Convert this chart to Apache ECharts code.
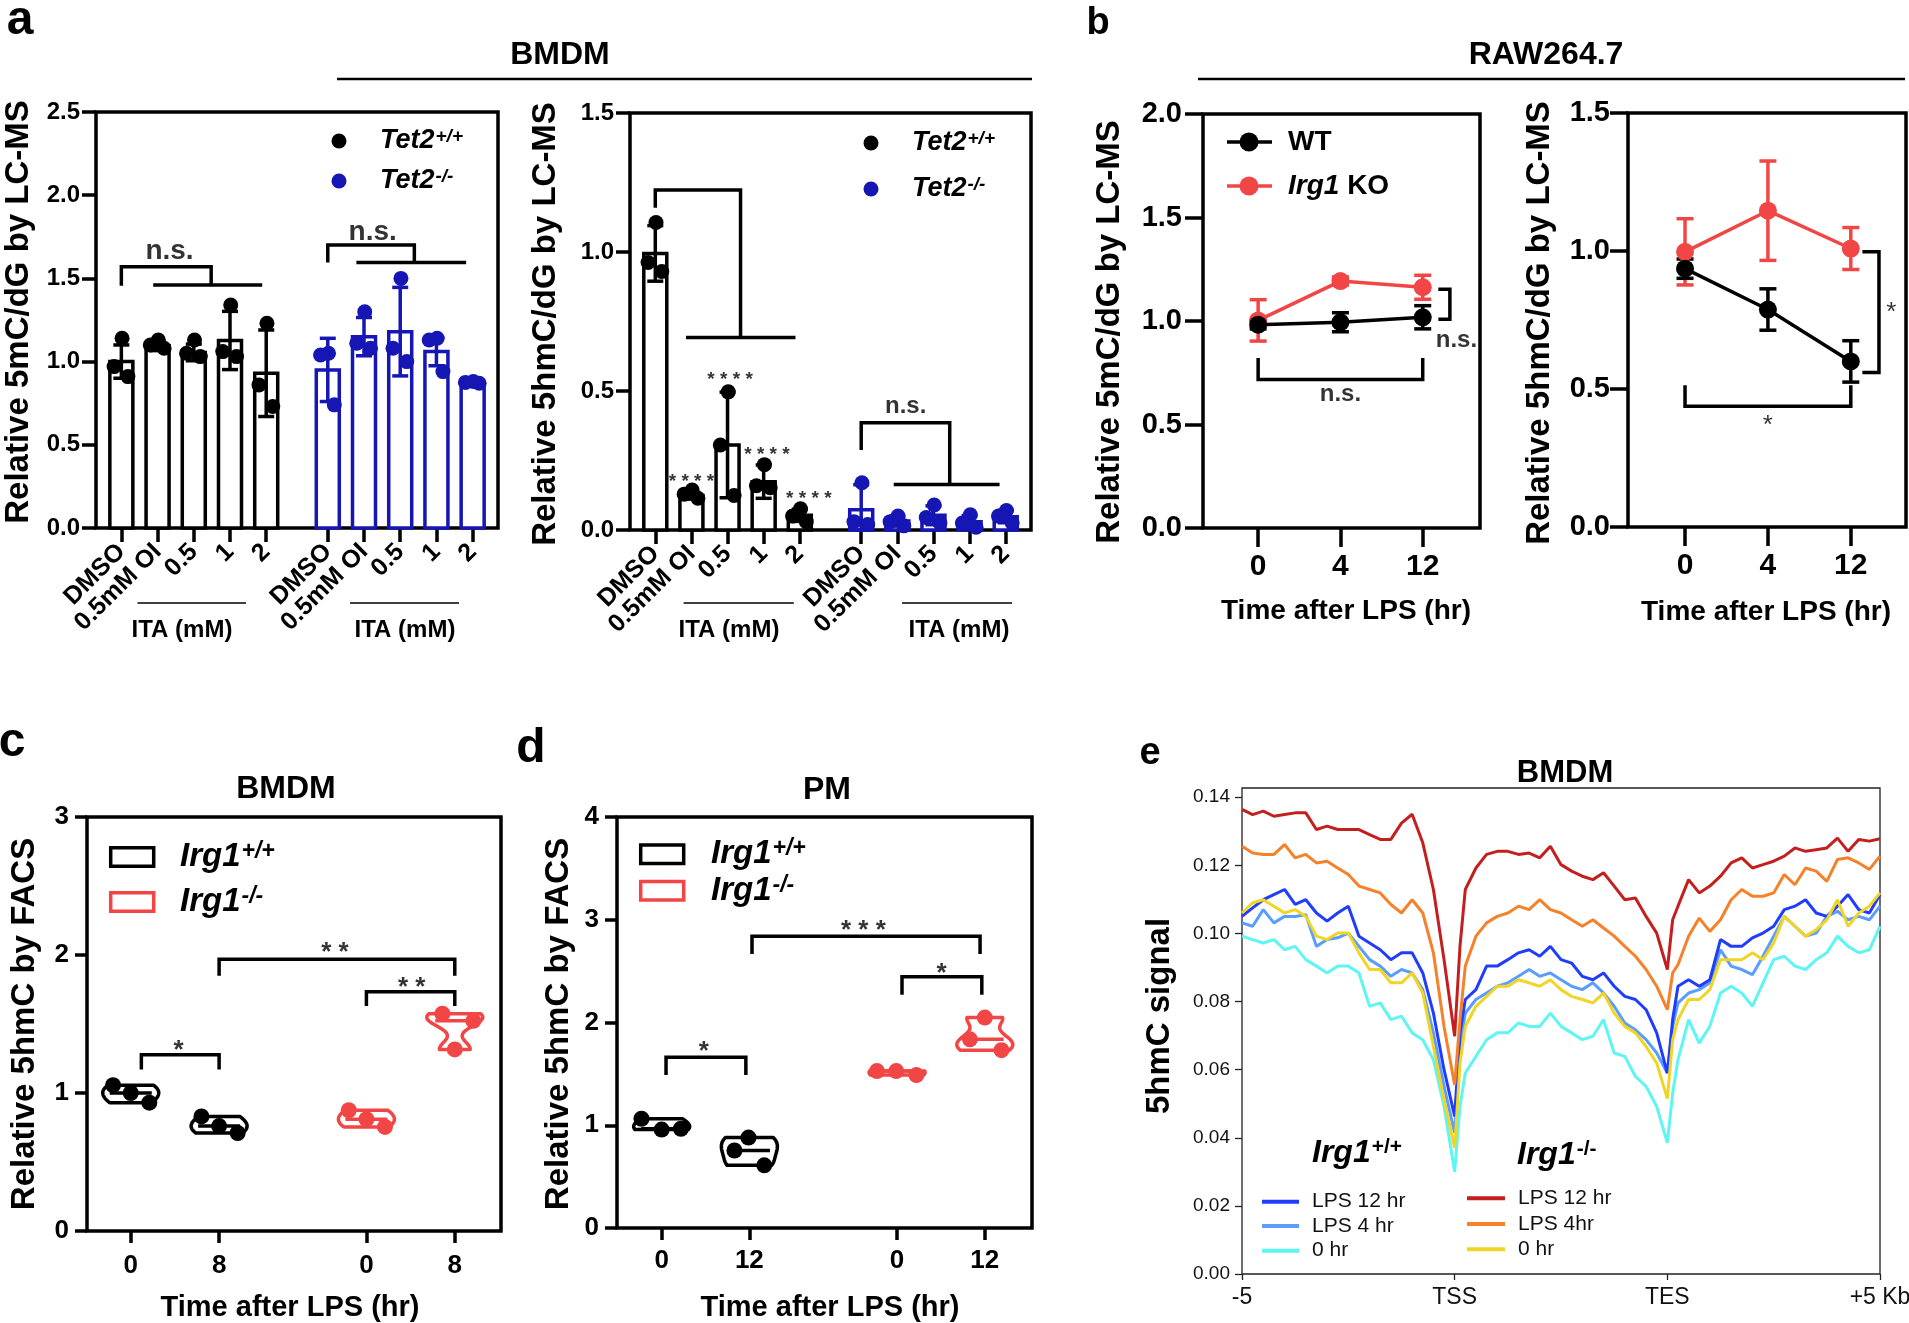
<!DOCTYPE html>
<html><head><meta charset="utf-8">
<script src="https://cdn.jsdelivr.net/npm/echarts@6/dist/echarts.min.js"></script>
<style>html,body{margin:0;padding:0;background:#fff}#c{width:1909px;height:1323px}</style>
</head><body><div id="c"></div>
<script>
// ---------------- DATA ----------------
// Panel a (BMDM, LC-MS)
const aCats = ['DMSO','0.5mM OI','0.5','1','2','DMSO','0.5mM OI','0.5','1','2'];
const aPos = [0,1,2,3,4,5.7,6.7,7.7,8.7,9.7];
const aJit = [[0.02,-0.2,0.18],[0.02,-0.2,0.18],[0.02,-0.2,0.18],[0.02,-0.2,0.18],[0.02,-0.2,0.18]];
const a5mC_wt_mean = [1.00,1.096,1.055,1.127,0.93];
const a5mC_wt_sd   = [0.10,0.03,0.05,0.175,0.26];
const a5mC_wt_pts  = [[1.14,0.97,0.91],[1.13,1.10,1.08],[1.13,1.05,1.03],[1.34,1.06,1.03],[1.23,0.86,0.73]];
const a5mC_ko_mean = [0.95,1.15,1.18,1.06,0.87];
const a5mC_ko_sd   = [0.19,0.115,0.266,0.085,0.01];
const a5mC_ko_pts  = [[1.05,1.04,0.74],[1.30,1.11,1.08],[1.50,1.08,1.00],[1.14,1.13,0.94],[0.88,0.875,0.87]];
const a5hmC_wt_mean = [0.995,0.124,0.306,0.174,0.053];
const a5hmC_wt_sd   = [0.10,0.013,0.19,0.06,0.022];
const a5hmC_wt_pts  = [[1.106,0.962,0.93],[0.144,0.129,0.114],[0.497,0.306,0.124],[0.235,0.159,0.152],[0.076,0.05,0.03]];
const a5hmC_ko_mean = [0.073,0.032,0.053,0.03,0.048];
const a5hmC_ko_sd   = [0.09,0.018,0.034,0.022,0.022];
const a5hmC_ko_pts  = [[0.17,0.03,0.02],[0.05,0.03,0.015],[0.09,0.045,0.025],[0.055,0.025,0.01],[0.07,0.05,0.025]];
const a1Ticks = [0,0.5,1.0,1.5,2.0,2.5];
const a2Ticks = [0,0.5,1.0,1.5];

// Panel b (RAW264.7)
const bTimes = ['0','4','12'];
const bPos = [0,1,2];
const b5mC_wt = [0.982,0.994,1.018], b5mC_wt_sd = [0.02,0.046,0.056];
const b5mC_ko = [1.003,1.193,1.163], b5mC_ko_sd = [0.10,0.02,0.058];
const b5hmC_wt = [0.936,0.788,0.60], b5hmC_wt_sd = [0.035,0.075,0.075];
const b5hmC_ko = [0.997,1.146,1.009], b5hmC_ko_sd = [0.12,0.18,0.076];

// Panel c (BMDM FACS)
const cTimes = ['0','8','0','8'];
const cPos = [0,1,2.667,3.667];
const c_wt = [[1.057,1.0,0.93],[0.83,0.76,0.71]];
const c_ko = [[0.875,0.81,0.754],[1.575,1.523,1.316]];
const c_wtJit = [[-0.2,0,0.21],[-0.2,0,0.21]];
const c_koJit = [[-0.2,0,0.21],[-0.14,0.21,0]];

// Panel d (PM FACS)
const dTimes = ['0','12','0','12'];
const dPos = [0,1,2.684,3.684];
const d_wt = [[1.063,0.958,0.966],[0.88,0.754,0.61]];
const d_ko = [[1.527,1.527,1.488],[2.048,1.836,1.731]];
const d_wtJit = [[-0.23,0,0.22],[-0.01,-0.17,0.17]];
const d_koJit = [[-0.23,-0.01,0.22],[0,-0.17,0.19]];

// Panel e (5hmC profile)
const eXLabels = ['-5','TSS','TES','+5 Kb'];
const eX = [0,0.05,0.1,0.15,0.2,0.25,0.3,0.35,0.4,0.45,0.5,0.55,0.6,0.65,0.7,0.75,0.8,0.85,0.9,0.95,1.0,1.025,1.05,1.1,1.15,1.2,1.25,1.3,1.35,1.4,1.45,1.5,1.55,1.6,1.65,1.7,1.75,1.8,1.85,1.9,1.95,2.0,2.025,2.05,2.1,2.15,2.2,2.25,2.3,2.35,2.4,2.45,2.5,2.55,2.6,2.65,2.7,2.75,2.8,2.85,2.9,2.95,3.0];
const eTicks = [0,0.02,0.04,0.06,0.08,0.10,0.12,0.14];
const e_wt_lps12 = [.1050,.1075,.1099,.1114,.1129,.1085,.1099,.1060,.1036,.1060,.1080,.0992,.0972,.0952,.0923,.0943,.0943,.0884,.0766,.0600,.0463,.0708,.0806,.0835,.0904,.0904,.0923,.0943,.0952,.0933,.0962,.0923,.0913,.0874,.0864,.0884,.0845,.0815,.0806,.0776,.0708,.0590,.0747,.0845,.0864,.0845,.0864,.0982,.0962,.0962,.0987,.1001,.1021,.1070,.1080,.1099,.1060,.1050,.1080,.1114,.1070,.1060,.1114];
const e_wt_lps4 = [.1031,.1021,.1070,.1031,.1050,.1050,.1055,.0962,.0982,.0987,.1001,.0962,.0923,.0904,.0874,.0894,.0884,.0835,.0708,.0551,.0414,.0668,.0766,.0806,.0825,.0845,.0855,.0874,.0894,.0874,.0884,.0864,.0845,.0835,.0855,.0825,.0786,.0737,.0717,.0688,.0649,.0590,.0727,.0796,.0825,.0835,.0855,.0952,.0904,.0894,.0879,.0933,.0992,.1050,.1021,.0992,.1001,.1050,.1065,.1040,.1050,.1040,.1080];
const e_wt_0 = [.0992,.0982,.0972,.0982,.0952,.0962,.0923,.0904,.0884,.0904,.0904,.0884,.0786,.0796,.0747,.0757,.0708,.0688,.0629,.0492,.0300,.0492,.0590,.0639,.0688,.0708,.0708,.0737,.0727,.0727,.0766,.0727,.0708,.0688,.0698,.0747,.0649,.0639,.0580,.0551,.0492,.0385,.0530,.0629,.0747,.0678,.0727,.0825,.0845,.0825,.0786,.0855,.0923,.0933,.0904,.0894,.0923,.0943,.0992,.0962,.0943,.0952,.1021];
const e_ko_lps12 = [.1364,.1349,.1359,.1344,.1349,.1354,.1354,.1305,.1315,.1305,.1305,.1305,.1290,.1276,.1276,.1324,.1350,.1266,.1129,.0923,.0698,.0962,.1129,.1192,.1232,.1241,.1241,.1232,.1236,.1222,.1256,.1202,.1183,.1168,.1158,.1178,.1139,.1099,.1104,.1050,.1001,.0894,.1040,.1080,.1158,.1119,.1139,.1168,.1207,.1222,.1192,.1202,.1212,.1227,.1251,.1241,.1246,.1251,.1280,.1241,.1276,.1271,.1278];
const e_ko_lps4 = [.1256,.1236,.1232,.1232,.1261,.1222,.1232,.1207,.1212,.1192,.1173,.1139,.1129,.1119,.1085,.1060,.1099,.1060,.0943,.0727,.0555,.0747,.0904,.0992,.1031,.1050,.1060,.1080,.1070,.1099,.1070,.1060,.1040,.1021,.1040,.1016,.0992,.0962,.0933,.0894,.0845,.0776,.0884,.0908,.0992,.1045,.1006,.1040,.1099,.1129,.1109,.1109,.1119,.1173,.1143,.1192,.1183,.1153,.1217,.1222,.1207,.1188,.1227];
const e_ko_0 = [.1060,.1090,.1099,.1080,.1060,.1070,.1050,.0992,.0982,.1001,.1001,.0943,.0894,.0894,.0855,.0855,.0884,.0825,.0668,.0512,.0370,.0619,.0727,.0786,.0815,.0845,.0845,.0864,.0855,.0845,.0864,.0835,.0815,.0806,.0796,.0825,.0766,.0727,.0708,.0668,.0619,.0515,.0688,.0747,.0806,.0806,.0835,.0923,.0923,.0923,.0943,.0923,.0972,.1050,.1021,.0992,.1011,.1040,.1099,.1021,.1060,.1080,.1119];

// Significance annotations (data coordinates)
const aL_br = [[[0,1.456],[0,1.57],[2.48,1.57],[2.48,1.461]], [[0.88,1.461],[3.89,1.461]], [[5.7,1.595],[5.7,1.70],[8.09,1.70],[8.09,1.595]], [[6.49,1.595],[9.52,1.595]]];
const aR_br = [[[0,1.159],[0,1.223],[2.36,1.223],[2.36,0.692]], [[0.85,0.692],[3.88,0.692]], [[5.7,0.288],[5.7,0.386],[8.15,0.386],[8.15,0.164]], [[6.6,0.164],[9.53,0.164]]];
const aR_stars = [[1.0,0.19],[2.07,0.56],[3.09,0.29],[4.25,0.13]];
const b1_br = [[[2.19,1.153],[2.33,1.153],[2.33,1.008],[2.19,1.008]], [[0,0.821],[0,0.717],[2,0.717],[2,0.821]]];
const b2_br = [[[2.14,0.997],[2.34,0.997],[2.34,0.56],[2.14,0.56]], [[0,0.514],[0,0.4375],[2,0.4375],[2,0.514]]];
const c_br = [[[0.12,1.17],[0.12,1.278],[1,1.278],[1,1.17]], [[1,1.85],[1,1.97],[3.667,1.97],[3.667,1.85]], [[2.667,1.63],[2.667,1.733],[3.667,1.733],[3.667,1.63]]];
const d_br = [[[0.05,1.488],[0.05,1.662],[0.96,1.662],[0.96,1.488]], [[1.03,2.667],[1.03,2.84],[3.63,2.84],[3.63,2.667]], [[2.74,2.27],[2.74,2.446],[3.65,2.446],[3.65,2.27]]];

// ---------------- STYLE ----------------
const F = '"Liberation Sans", Arial, Helvetica, sans-serif';
const BLACK = '#000000', BLUE = '#1616b4', RED = '#f24646';
const E_COL = {wt12:'#1f3cff', wt4:'#5b9cff', wt0:'#5ff5f5', ko12:'#c41f1f', ko4:'#f5822a', ko0:'#f0d524'};
const LW = 3.5;

function nearestIdx(arr, v){ let b=0; arr.forEach((p,i)=>{ if(Math.abs(p-v)<Math.abs(arr[b]-v)) b=i; }); return b; }

function xAxisCustom(gi, pos, labels, min, max, o){
  return {gridIndex:gi, type:'value', min, max,
    axisLine:{show:false, onZero:false}, splitLine:{show:false},
    axisTick:{show:true, customValues:pos, length:o.tick, lineStyle:{width:o.lw||LW, color:o.tc||'#000'}},
    axisLabel:{customValues:pos, formatter:(v)=>labels[nearestIdx(pos,v)], rotate:o.rotate||0,
      showMinLabel:true, showMaxLabel:true, hideOverlap:false,
      fontSize:o.fs, fontWeight:o.fw||'bold', fontFamily:F, color:o.col||'#000', margin:o.margin}};
}
function yAxisStd(gi, min, max, ticks, o){
  return {gridIndex:gi, type:'value', min, max,
    axisLine:{show:false, onZero:false}, splitLine:{show:false},
    axisTick:{show:true, customValues:ticks, length:o.tick, lineStyle:{width:o.lw||LW, color:o.tc||'#000'}},
    axisLabel:{customValues:ticks, formatter:(v)=>v.toFixed(o.dec), showMinLabel:true, showMaxLabel:true, hideOverlap:false,
      fontSize:o.fs, fontWeight:o.fw||'bold', fontFamily:F, color:o.col||'#000', margin:o.margin}};
}

function barSeries(gi, pos, means, sds, color){
  return {type:'custom', xAxisIndex:gi, yAxisIndex:gi, clip:false, z:2,
    data: means.map((m,i)=>[pos[i], m, sds[i]]),
    renderItem:(params, api)=>{
      const x=api.value(0), m=api.value(1), s=api.value(2);
      const p0=api.coord([x,0]), p1=api.coord([x,m]);
      const hi=api.coord([x,m+s]), lo=api.coord([x,Math.max(0,m-s)]);
      const w=23, cw=16;
      return {type:'group', children:[
        {type:'rect', shape:{x:p0[0]-w/2, y:p1[1], width:w, height:p0[1]-p1[1]}, style:{fill:'#fff', stroke:color, lineWidth:LW}},
        {type:'line', shape:{x1:hi[0],y1:hi[1],x2:lo[0],y2:lo[1]}, style:{stroke:color,lineWidth:LW}},
        {type:'line', shape:{x1:hi[0]-cw/2,y1:hi[1],x2:hi[0]+cw/2,y2:hi[1]}, style:{stroke:color,lineWidth:LW}},
        {type:'line', shape:{x1:lo[0]-cw/2,y1:lo[1],x2:lo[0]+cw/2,y2:lo[1]}, style:{stroke:color,lineWidth:LW}}
      ]};
    }};
}
function errSeries(gi, pos, means, sds, color, cw){
  return {type:'custom', xAxisIndex:gi, yAxisIndex:gi, clip:false, z:3,
    data: means.map((m,i)=>[pos[i], m, sds[i]]),
    renderItem:(params, api)=>{
      const x=api.value(0), m=api.value(1), s=api.value(2);
      const hi=api.coord([x,m+s]), lo=api.coord([x,m-s]);
      return {type:'group', children:[
        {type:'line', shape:{x1:hi[0],y1:hi[1],x2:lo[0],y2:lo[1]}, style:{stroke:color,lineWidth:LW}},
        {type:'line', shape:{x1:hi[0]-cw/2,y1:hi[1],x2:hi[0]+cw/2,y2:hi[1]}, style:{stroke:color,lineWidth:LW}},
        {type:'line', shape:{x1:lo[0]-cw/2,y1:lo[1],x2:lo[0]+cw/2,y2:lo[1]}, style:{stroke:color,lineWidth:LW}}
      ]};
    }};
}
function dots(gi, pos, pts, jit, color, size){
  const data=[]; pts.forEach((arr,i)=>arr.forEach((v,j)=>data.push([pos[i]+jit[i][j], v])));
  return {type:'scatter', xAxisIndex:gi, yAxisIndex:gi, data, symbol:'circle', symbolSize:size,
    itemStyle:{color, opacity:1}, z:6, silent:true};
}
function violin(gi, pos, groups, color, bw){
  return {type:'custom', xAxisIndex:gi, yAxisIndex:gi, clip:false, z:4,
    data: groups.map((g,i)=>[pos[i], [...g].sort((a,b)=>a-b)[1]]),
    renderItem:(params, api)=>{
      const i=params.dataIndex, vals=groups[i], x=api.value(0), med=api.value(1);
      const lo=Math.min(...vals), hi=Math.max(...vals);
      const dens=(y)=>vals.reduce((s,v)=>s+Math.exp(-((y-v)*(y-v))/(2*bw*bw)),0);
      const N=30, prof=[];
      for(let k=0;k<=N;k++){ const y=lo+(hi-lo)*k/N; prof.push([y,dens(y)]); }
      const dmax=Math.max(...prof.map(p=>p[1]));
      const cx=api.coord([x,0])[0], HW=28;
      const left=[], right=[];
      prof.forEach(([y,d])=>{ const py=api.coord([x,y])[1]; const hw=HW*d/dmax; left.push([cx-hw,py]); right.push([cx+hw,py]); });
      const pts=left.concat(right.reverse());
      const pm=api.coord([x,med])[1], hwm=HW*dens(med)/dmax*0.75;
      return {type:'group', children:[
        {type:'polygon', shape:{points:pts}, style:{fill:'#fff', stroke:color, lineWidth:LW, lineJoin:'round'}},
        {type:'line', shape:{x1:cx-hwm,y1:pm,x2:cx+hwm,y2:pm}, style:{stroke:color,lineWidth:LW}}
      ]};
    }};
}
function path(gi, pts, color, w){
  return {type:'line', xAxisIndex:gi, yAxisIndex:gi, data:pts, symbol:'none', silent:true, z:5,
    lineStyle:{color:color||'#000', width:w||LW, join:'miter'}};
}
function note(gi, x, y, text, size, weight, offY){
  return {type:'scatter', xAxisIndex:gi, yAxisIndex:gi, data:[[x,y]], symbolSize:1, silent:true, z:10,
    itemStyle:{color:'rgba(0,0,0,0)'},
    label:{show:true, position:'inside', formatter:text, fontSize:size, fontWeight:weight||'bold', fontFamily:F, color:'#000', offset:[0,offY||0]}};
}
function eLine(data, color){
  return {type:'line', xAxisIndex:6, yAxisIndex:6, data:eX.map((x,i)=>[x,data[i]]), symbol:'none', silent:true,
    lineStyle:{color, width:3}, z:3};
}

// graphic helpers
function T(x,y,text,size,o){
  o=o||{};
  const st={text, font:(o.it?'italic ':'')+(o.fw||'bold')+' '+size+'px '+F, fill:o.col||'#000',
    align:o.align||'center', verticalAlign:o.va||'middle', textAlign:o.align||'center', textVerticalAlign:o.va||'middle'};
  if(o.rich) st.rich=o.rich;
  return {type:'text', x, y, rotation:o.rot||0, z:100, silent:true, style:st};
}
function L(x1,y1,x2,y2,w,col){ return {type:'line', z:100, silent:true, shape:{x1,y1,x2,y2}, style:{stroke:col||'#000', lineWidth:w}}; }
function supRich(S, s, up, fw){
  return {i:{fontSize:S, fontStyle:'italic', fontWeight:'bold', fontFamily:F, fill:'#000', color:'#000'},
          n:{fontSize:S, fontWeight:'bold', fontFamily:F, fill:'#000', color:'#000'},
          s:{fontSize:s, fontStyle:fw||'italic', fontWeight:'bold', fontFamily:F, fill:'#000', color:'#000', verticalAlign:'top', padding:[0,0,up||0,1]}};
}

// ---------------- LAYOUT ----------------
const grids = [
  {left:96, top:112, width:402, height:416},
  {left:630, top:113, width:401, height:417},
  {left:1203, top:114, width:277, height:414},
  {left:1628, top:113, width:278, height:414},
  {left:87, top:817, width:414, height:414},
  {left:617, top:817, width:415, height:411},
  {left:1242, top:788, width:638, height:486}
].map((g,i)=>Object.assign(g,{show:true, borderColor:i===6?'#222':'#000', borderWidth:i===6?1.3:LW, backgroundColor:'transparent', containLabel:false, outerBoundsMode:'none'}));

const xAxes = [
  xAxisCustom(0, aPos, aCats, -0.7, 10.4, {tick:14, fs:25, margin:20, rotate:45}),
  xAxisCustom(1, aPos, aCats, -0.7, 10.4, {tick:14, fs:25, margin:20, rotate:45}),
  xAxisCustom(2, bPos, bTimes, -0.67, 2.696, {tick:19, fs:30, margin:24}),
  xAxisCustom(3, bPos, bTimes, -0.688, 2.666, {tick:19, fs:30, margin:24}),
  xAxisCustom(4, cPos, cTimes, -0.495, 4.19, {tick:12, fs:26, margin:22}),
  xAxisCustom(5, dPos, dTimes, -0.509, 4.222, {tick:12, fs:26, margin:20}),
  xAxisCustom(6, [0,1,2,3], eXLabels, 0, 3, {tick:6, fs:23, fw:'normal', margin:12, lw:1.3, tc:'#222', col:'#111'})
];
const yAxes = [
  yAxisStd(0, 0, 2.5, a1Ticks, {tick:14, fs:24, margin:16, dec:1}),
  yAxisStd(1, 0, 1.5, a2Ticks, {tick:14, fs:24, margin:16, dec:1}),
  yAxisStd(2, 0, 2.0, [0,0.5,1.0,1.5,2.0], {tick:18, fs:29, margin:21, dec:1}),
  yAxisStd(3, 0, 1.5, [0,0.5,1.0,1.5], {tick:18, fs:29, margin:18, dec:1}),
  yAxisStd(4, 0, 3, [0,1,2,3], {tick:12, fs:26, margin:18, dec:0}),
  yAxisStd(5, 0, 4, [0,1,2,3,4], {tick:12, fs:26, margin:18, dec:0}),
  yAxisStd(6, 0, 0.1427, eTicks, {tick:7, fs:19, fw:'normal', margin:12, dec:2, lw:1.3, tc:'#222', col:'#111'})
];

const series = [];
// a left
series.push(barSeries(0, aPos.slice(0,5), a5mC_wt_mean, a5mC_wt_sd, BLACK));
series.push(barSeries(0, aPos.slice(5), a5mC_ko_mean, a5mC_ko_sd, BLUE));
series.push(dots(0, aPos.slice(0,5), a5mC_wt_pts, aJit, BLACK, 15));
series.push(dots(0, aPos.slice(5), a5mC_ko_pts, aJit, BLUE, 15));
aL_br.forEach(p=>series.push(path(0,p)));
series.push(note(0, 1.33, 1.66, 'n.s.', 28));
series.push(note(0, 6.94, 1.78, 'n.s.', 28));
// a right
series.push(barSeries(1, aPos.slice(0,5), a5hmC_wt_mean, a5hmC_wt_sd, BLACK));
series.push(barSeries(1, aPos.slice(5), a5hmC_ko_mean, a5hmC_ko_sd, BLUE));
series.push(dots(1, aPos.slice(0,5), a5hmC_wt_pts, aJit, BLACK, 15));
series.push(dots(1, aPos.slice(5), a5hmC_ko_pts, aJit, BLUE, 15));
aR_br.forEach(p=>series.push(path(1,p)));
series.push(note(1, 6.93, 0.445, 'n.s.', 24));
aR_stars.forEach(s=>series.push(note(1, s[0], s[1], '* * * *', 19, 'bold', 5)));
// b left
series.push(errSeries(2, bPos, b5mC_ko, b5mC_ko_sd, RED, 17));
series.push({type:'line', xAxisIndex:2, yAxisIndex:2, data:bPos.map((p,i)=>[p,b5mC_ko[i]]), symbol:'circle', symbolSize:18, itemStyle:{color:RED}, lineStyle:{color:RED,width:LW}, z:3, silent:true});
series.push(errSeries(2, bPos, b5mC_wt, b5mC_wt_sd, BLACK, 17));
series.push({type:'line', xAxisIndex:2, yAxisIndex:2, data:bPos.map((p,i)=>[p,b5mC_wt[i]]), symbol:'circle', symbolSize:18, itemStyle:{color:BLACK}, lineStyle:{color:BLACK,width:LW}, z:4, silent:true});
b1_br.forEach(p=>series.push(path(2,p)));
series.push(note(2, 2.41, 0.905, 'n.s.', 24));
series.push(note(2, 1.0, 0.645, 'n.s.', 24));
// b right
series.push(errSeries(3, bPos, b5hmC_ko, b5hmC_ko_sd, RED, 17));
series.push({type:'line', xAxisIndex:3, yAxisIndex:3, data:bPos.map((p,i)=>[p,b5hmC_ko[i]]), symbol:'circle', symbolSize:18, itemStyle:{color:RED}, lineStyle:{color:RED,width:LW}, z:3, silent:true});
series.push(errSeries(3, bPos, b5hmC_wt, b5hmC_wt_sd, BLACK, 17));
series.push({type:'line', xAxisIndex:3, yAxisIndex:3, data:bPos.map((p,i)=>[p,b5hmC_wt[i]]), symbol:'circle', symbolSize:18, itemStyle:{color:BLACK}, lineStyle:{color:BLACK,width:LW}, z:4, silent:true});
b2_br.forEach(p=>series.push(path(3,p)));
series.push(note(3, 2.49, 0.796, '*', 26, 'normal', 6));
series.push(note(3, 1.0, 0.39, '*', 26, 'normal', 6));
// c
series.push(violin(4, cPos.slice(0,2), c_wt, BLACK, 0.06));
series.push(violin(4, cPos.slice(2), c_ko, RED, 0.06));
series.push(dots(4, cPos.slice(0,2), c_wt, c_wtJit, BLACK, 16));
series.push(dots(4, cPos.slice(2), c_ko, c_koJit, RED, 16));
c_br.forEach(p=>series.push(path(4,p)));
series.push(note(4, 0.54, 1.345, '*', 26, 'bold', 5));
series.push(note(4, 2.31, 2.05, '* *', 26, 'bold', 5));
series.push(note(4, 3.18, 1.80, '* *', 26, 'bold', 5));
// d
series.push(violin(5, dPos.slice(0,2), d_wt, BLACK, 0.08));
series.push(violin(5, dPos.slice(2), d_ko, RED, 0.08));
series.push(dots(5, dPos.slice(0,2), d_wt, d_wtJit, BLACK, 16));
series.push(dots(5, dPos.slice(2), d_ko, d_koJit, RED, 16));
d_br.forEach(p=>series.push(path(5,p)));
series.push(note(5, 0.48, 1.76, '*', 26, 'bold', 5));
series.push(note(5, 2.30, 2.945, '* * *', 26, 'bold', 5));
series.push(note(5, 3.19, 2.52, '*', 26, 'bold', 5));
// e
series.push(eLine(e_wt_0, E_COL.wt0));
series.push(eLine(e_wt_lps4, E_COL.wt4));
series.push(eLine(e_wt_lps12, E_COL.wt12));
series.push(eLine(e_ko_0, E_COL.ko0));
series.push(eLine(e_ko_lps4, E_COL.ko4));
series.push(eLine(e_ko_lps12, E_COL.ko12));

// ---------------- GRAPHIC TEXT ----------------
const g = [];
// panel letters
g.push(T(20,21,'a',48)); g.push(T(1098,24,'b',38)); g.push(T(12,743,'c',48)); g.push(T(531,749,'d',48)); g.push(T(1150,754,'e',38));
// titles + underlines
g.push(T(560,55,'BMDM',32)); g.push(L(337,79,1032,79,2.5));
g.push(T(1546,55,'RAW264.7',32)); g.push(L(1198,79,1905,79,2.5));
g.push(T(286,789,'BMDM',32)); g.push(T(827,790,'PM',32)); g.push(T(1565,773,'BMDM',31));
// y axis names
const R90 = Math.PI/2;
g.push(T(19,312,'Relative 5mC/dG by LC-MS',33,{rot:R90}));
g.push(T(546,324,'Relative 5hmC/dG by LC-MS',33,{rot:R90}));
g.push(T(1110,332,'Relative 5mC/dG by LC-MS',33,{rot:R90}));
g.push(T(1540,323,'Relative 5hmC/dG by LC-MS',33,{rot:R90}));
g.push(T(25,1024,'Relative 5hmC by FACS',33,{rot:R90}));
g.push(T(559,1024,'Relative 5hmC by FACS',33,{rot:R90}));
g.push(T(1160,1016,'5hmC signal',33,{rot:R90}));
// x axis names
g.push(T(1346,611,'Time after LPS (hr)',28)); g.push(T(1766,612,'Time after LPS (hr)',28));
g.push(T(290,1308,'Time after LPS (hr)',29)); g.push(T(830,1308,'Time after LPS (hr)',29));
// ITA group lines
[[137.5,246,182],[350,459,405],[683.6,793.8,729],[902,1012,959]].forEach(a=>{ g.push(L(a[0],603,a[1],603,1.6)); g.push(T(a[2],630,'ITA (mM)',24)); });
// legends a
[[339,141,380,BLACK,'+/+'],[339,181,380,BLUE,'-/-'],[871,143,912,BLACK,'+/+'],[871,189,912,BLUE,'-/-']].forEach(a=>{
  g.push({type:'circle', z:100, silent:true, shape:{cx:a[0], cy:a[1], r:7.5}, style:{fill:a[3]}});
  g.push(T(a[2],a[1],'{i|Tet2}{s|'+a[4]+'}',27,{align:'left', rich:supRich(27,19,6)}));
});
// legend b
[[142,BLACK,'{n|WT}'],[186,RED,'{i|Irg1}{n| KO}']].forEach(a=>{
  g.push(L(1227,a[0],1272,a[0],LW,a[1]));
  g.push({type:'circle', z:100, silent:true, shape:{cx:1249, cy:a[0], r:9.5}, style:{fill:a[1]}});
  g.push(T(1288,a[0],a[2],28,{align:'left', rich:supRich(28,18)}));
});
// legends c, d
[[110.7,847.7,180,857,BLACK,'+/+'],[110.7,892.7,180,902,RED,'-/-'],[640.7,845,711,854,BLACK,'+/+'],[640.7,881.6,711,891,RED,'-/-']].forEach(a=>{
  g.push({type:'rect', z:100, silent:true, shape:{x:a[0], y:a[1], width:43, height:18.5}, style:{fill:'none', stroke:a[4], lineWidth:LW}});
  g.push(T(a[2],a[3],'{i|Irg1}{s|'+a[5]+'}',33,{align:'left', rich:supRich(33,23,8)}));
});
// legend e
g.push(T(1312,1153,'{i|Irg1}{s|+/+}',32,{align:'left', rich:supRich(32,21,6,'normal')}));
g.push(T(1517,1155,'{i|Irg1}{s|-/-}',32,{align:'left', rich:supRich(32,21,6,'normal')}));
[[1201.7,E_COL.wt12,'LPS 12 hr'],[1226,E_COL.wt4,'LPS 4 hr'],[1250.7,E_COL.wt0,'0 hr']].forEach(a=>{
  g.push(L(1262,a[0],1299,a[0],4,a[1])); g.push(T(1312,a[0],a[2],21,{align:'left', fw:'normal', col:'#111'}));
});
[[1198.3,E_COL.ko12,'LPS 12 hr'],[1224,E_COL.ko4,'LPS 4hr'],[1249.3,E_COL.ko0,'0 hr']].forEach(a=>{
  g.push(L(1467,a[0],1505,a[0],4,a[1])); g.push(T(1518,a[0],a[2],21,{align:'left', fw:'normal', col:'#111'}));
});

const option = {
  animation:false,
  backgroundColor:'#ffffff',
  grid: grids, xAxis: xAxes, yAxis: yAxes, series,
  graphic: {elements: g}
};
const chart = echarts.init(document.getElementById('c'), null, {renderer:'canvas', width:1909, height:1323});
chart.setOption(option);
</script></body></html>
